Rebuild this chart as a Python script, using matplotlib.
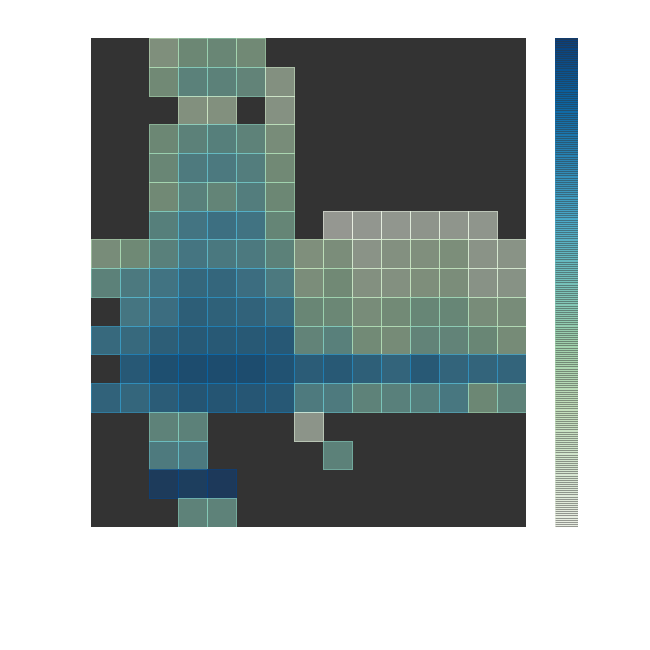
import numpy as np
import matplotlib
matplotlib.use("Agg")
import matplotlib.pyplot as plt

nan = np.nan

# cell values (rows top to bottom, 15 columns); NaN = empty cell
row_00 = [nan, nan, 25, 38, 40, 35, nan, nan, nan, nan, nan, nan, nan, nan, nan]
row_01 = [nan, nan, 35, 48, 47, 44, 20, nan, nan, nan, nan, nan, nan, nan, nan]
row_02 = [nan, nan, nan, 22, 22, nan, 18, nan, nan, nan, nan, nan, nan, nan, nan]
row_03 = [nan, nan, 38, 47, 50, 46, 30, nan, nan, nan, nan, nan, nan, nan, nan]
row_04 = [nan, nan, 40, 55, 56, 52, 35, nan, nan, nan, nan, nan, nan, nan, nan]
row_05 = [nan, nan, 35, 49, 43, 52, 38, nan, nan, nan, nan, nan, nan, nan, nan]
row_06 = [nan, nan, 50, 61, 65, 62, 42, nan, 0, 3, 4, 8, 7, 6, nan]
row_07 = [30, 36, 49, 60, 57, 56, 47, 25, 28, 12, 20, 24, 27, 12, 13]
row_08 = [47, 56, 62, 70, 71, 66, 56, 28, 35, 20, 20, 26, 28, 14, 15]
row_09 = [nan, 60, 66, 76, 74, 73, 69, 40, 39, 30, 34, 41, 41, 30, 30]
row_10 = [69, 69, 76, 79, 79, 79, 80, 44, 49, 34, 32, 44, 44, 40, 32]
row_11 = [nan, 80, 86, 88, 88, 88, 84, 77, 79, 75, 72, 79, 72, 72, 72]
row_12 = [73, 71, 77, 82, 82, 81, 80, 55, 55, 46, 49, 51, 58, 38, 46]
row_13 = [nan, nan, 46, 47, nan, nan, nan, 10, nan, nan, nan, nan, nan, nan, nan]
row_14 = [nan, nan, 55, 56, nan, nan, nan, nan, 47, nan, nan, nan, nan, nan, nan]
row_15 = [nan, nan, 99, 97, 100, nan, nan, nan, nan, nan, nan, nan, nan, nan, nan]
row_16 = [nan, nan, nan, 46, 46, nan, nan, nan, nan, nan, nan, nan, nan, nan, nan]

rows = [row_00, row_01, row_02, row_03, row_04, row_05, row_06, row_07, row_08,
        row_09, row_10, row_11, row_12, row_13, row_14, row_15, row_16]
data = np.ma.masked_invalid(np.array(rows, dtype=float))

W, H = 650, 650
fig = plt.figure(figsize=(6.5, 6.5), dpi=100)
fig.patch.set_facecolor("white")

ax = fig.add_axes([91 / W, (H - 527) / H, 435 / W, 489 / H])
cax = fig.add_axes([555 / W, (H - 527) / H, 23 / W, 489 / H])

bg = "#333333"
ax.set_facecolor(bg)
cax.set_facecolor(bg)

mesh = ax.pcolormesh(np.arange(data.shape[1] + 1), np.arange(data.shape[0] + 1), data,
                     cmap="GnBu", alpha=0.5, edgecolors="face", linewidth=0.45)
ax.set_xlim(0, data.shape[1])
ax.set_ylim(data.shape[0], 0)
ax.set_xticks([])
ax.set_yticks([])
for s in ax.spines.values():
    s.set_visible(False)

cb = fig.colorbar(mesh, cax=cax)
cb.outline.set_visible(False)
cb.solids.set_rasterized(False)
cb.solids.set_edgecolor("face")
cb.solids.set_linewidth(0.4)
cax.set_yticks([])
cax.tick_params(length=0)

fig.savefig("out.png", dpi=100)
